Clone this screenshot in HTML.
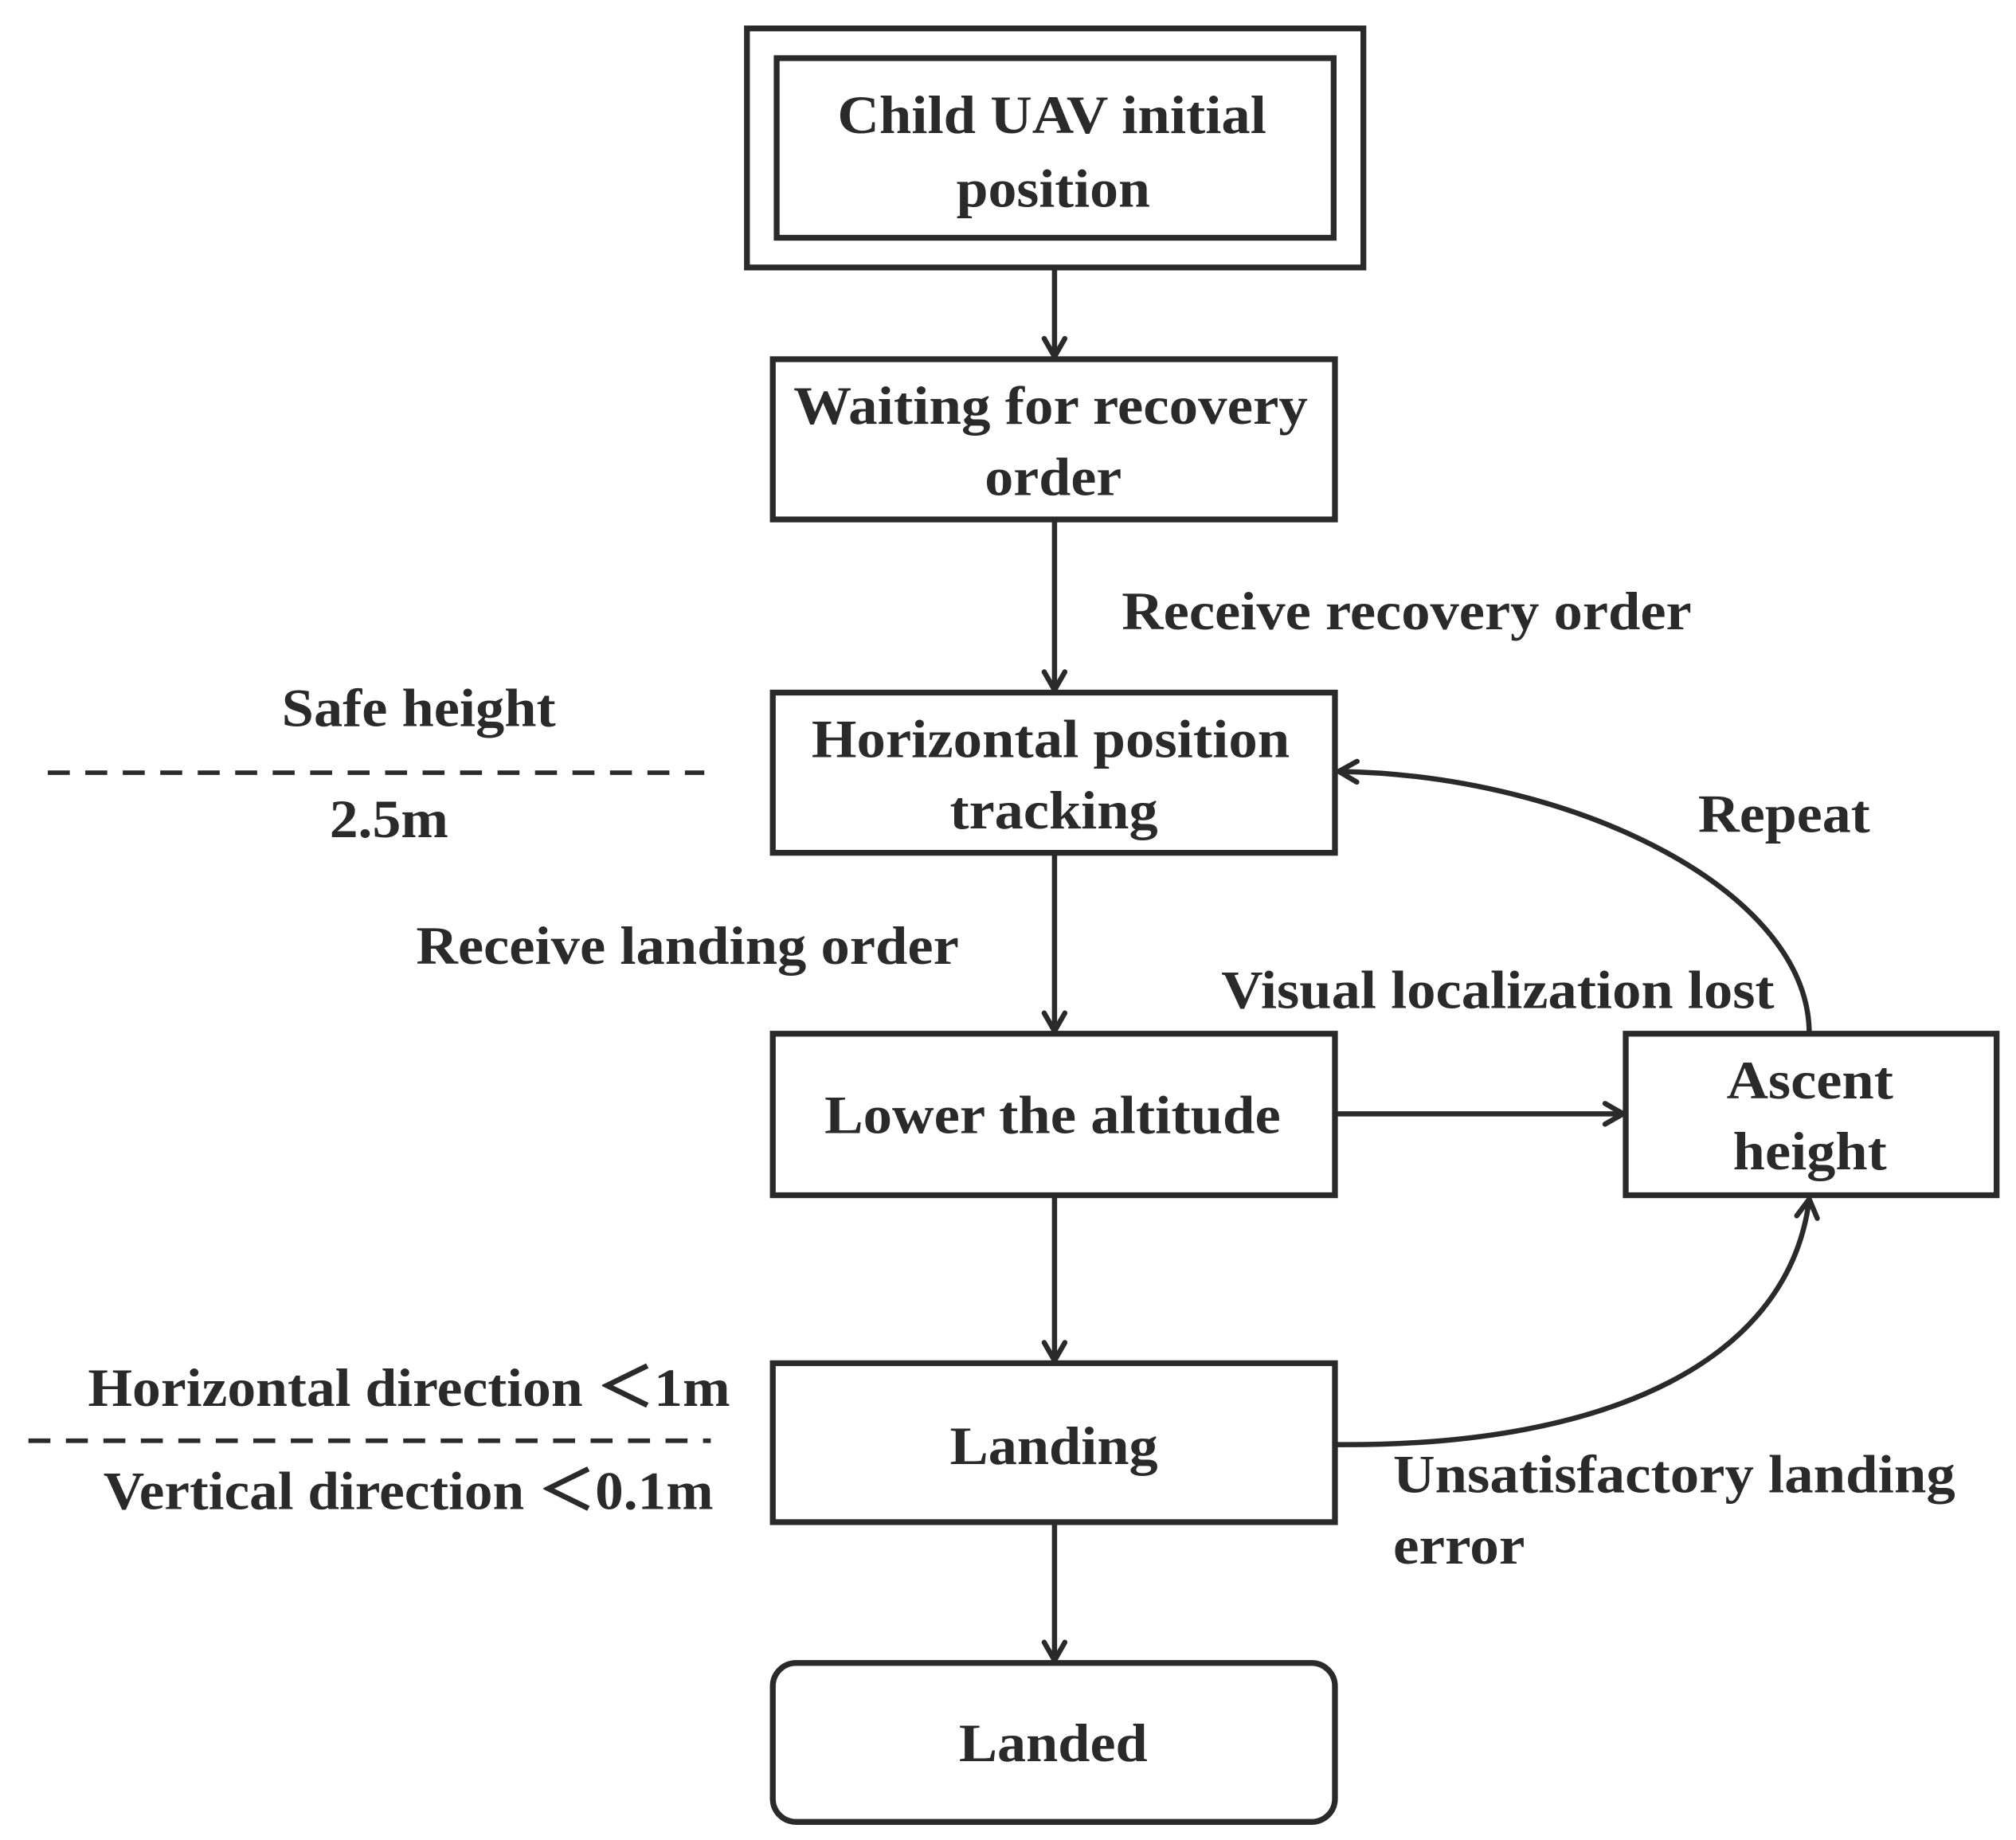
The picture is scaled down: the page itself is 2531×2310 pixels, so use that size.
<!DOCTYPE html>
<html><head><meta charset="utf-8"><style>html,body{margin:0;padding:0;background:#fff}svg{display:block}</style></head>
<body>
<svg width="2531" height="2310" viewBox="0 0 1560 1424" preserveAspectRatio="none" xmlns="http://www.w3.org/2000/svg">
<defs>
<marker id="a" viewBox="0 0 20 20" refX="18" refY="10" markerWidth="20" markerHeight="20" markerUnits="userSpaceOnUse" orient="auto">
<path d="M4,2 L18,10 L4,18" fill="none" stroke="#2a2a2a" stroke-width="4" stroke-linecap="round" stroke-linejoin="round"/>
</marker>
</defs>
<g fill="none" stroke="#2a2a2a" stroke-width="4.5">
<rect x="578" y="22" width="477" height="185"/>
<rect x="601" y="45" width="431" height="139"/>
<rect x="598" y="278" width="435" height="124"/>
<rect x="598" y="536" width="435" height="124"/>
<rect x="598" y="800" width="435" height="125"/>
<rect x="1258" y="800" width="287" height="125"/>
<rect x="598" y="1055" width="435" height="123"/>
<rect x="598" y="1287" width="435" height="123" rx="18"/>
<g stroke-width="4" marker-end="url(#a)">
<line x1="816" y1="207" x2="816" y2="276"/>
<line x1="816" y1="402" x2="816" y2="534"/>
<line x1="816" y1="660" x2="816" y2="798"/>
<line x1="816" y1="925" x2="816" y2="1053"/>
<line x1="816" y1="1178" x2="816" y2="1285"/>
<line x1="1033" y1="862" x2="1256" y2="862"/>
<path d="M1400,800 C1400,690 1220,600 1036,597"/>
<path d="M1033,1118 C1250,1120 1385,1050 1400,928"/>
</g>
<g stroke-width="3.5" stroke-dasharray="17,12">
<line x1="37" y1="598" x2="545" y2="598"/>
<line x1="22" y1="1115" x2="550" y2="1115"/>
</g>
</g>
<g font-family="Liberation Serif, serif" font-weight="bold" font-size="42" fill="#2a2a2a" lengthAdjust="spacingAndGlyphs">
<text x="648" y="103" textLength="332" lengthAdjust="spacingAndGlyphs">Child UAV initial</text>
<text x="740" y="160" textLength="150" lengthAdjust="spacingAndGlyphs">position</text>
<text x="614" y="328" textLength="398" lengthAdjust="spacingAndGlyphs">Waiting for recovery</text>
<text x="762" y="383" textLength="106" lengthAdjust="spacingAndGlyphs">order</text>
<text x="868" y="487" textLength="441" lengthAdjust="spacingAndGlyphs">Receive recovery order</text>
<text x="218" y="562" textLength="212" lengthAdjust="spacingAndGlyphs">Safe height</text>
<text x="255" y="648" textLength="92" lengthAdjust="spacingAndGlyphs">2.5m</text>
<text x="628" y="586" textLength="370" lengthAdjust="spacingAndGlyphs">Horizontal position</text>
<text x="735" y="641" textLength="161" lengthAdjust="spacingAndGlyphs">tracking</text>
<text x="1314" y="644" textLength="133" lengthAdjust="spacingAndGlyphs">Repeat</text>
<text x="322" y="746" textLength="420" lengthAdjust="spacingAndGlyphs">Receive landing order</text>
<text x="945" y="780" textLength="428" lengthAdjust="spacingAndGlyphs">Visual localization lost</text>
<text x="638" y="877" textLength="353" lengthAdjust="spacingAndGlyphs">Lower the altitude</text>
<text x="1336" y="850" textLength="129" lengthAdjust="spacingAndGlyphs">Ascent</text>
<text x="1341" y="905" textLength="119" lengthAdjust="spacingAndGlyphs">height</text>
<text x="68" y="1088" textLength="497" lengthAdjust="spacingAndGlyphs">Horizontal direction ＜1m</text>
<text x="80" y="1168" textLength="472" lengthAdjust="spacingAndGlyphs">Vertical direction ＜0.1m</text>
<text x="735" y="1133" textLength="161" lengthAdjust="spacingAndGlyphs">Landing</text>
<text x="1078" y="1155" textLength="435" lengthAdjust="spacingAndGlyphs">Unsatisfactory landing</text>
<text x="1078" y="1210" textLength="102" lengthAdjust="spacingAndGlyphs">error</text>
<text x="742" y="1363" textLength="146" lengthAdjust="spacingAndGlyphs">Landed</text>
</g>
</svg>
</body></html>
